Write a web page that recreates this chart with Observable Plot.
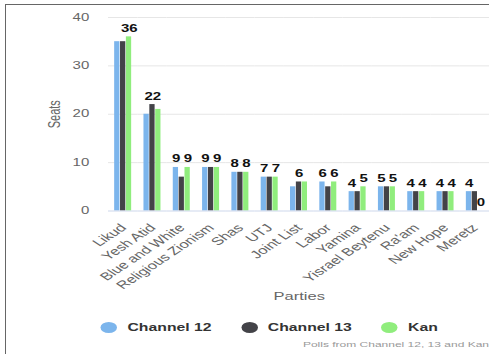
<!DOCTYPE html>
<html><head><meta charset="utf-8">
<script src="https://cdn.jsdelivr.net/npm/d3@7"></script>
<script src="https://cdn.jsdelivr.net/npm/@observablehq/plot@0.6"></script>
<style>
html,body{margin:0;padding:0;background:#fff;overflow:hidden;width:489px;height:354px}
#frame{position:absolute;left:5px;top:4px;right:0;bottom:0;border-top:1.5px solid #666;border-left:1.5px solid #666;pointer-events:none}
#stage{position:absolute;left:0;top:0;width:327px;height:354px;transform:scaleX(1.5);transform-origin:0 0;font-family:"Liberation Sans",Arial,sans-serif}
#legend{position:absolute;top:320px;left:67px;display:flex;gap:19.5px;font-size:10.5px;font-weight:bold;color:#333;line-height:14px}
.item{display:flex;align-items:center;gap:7px}
.dot{width:11px;height:11px;border-radius:50%}
#caption{position:absolute;right:1px;top:340px;font-size:8px;color:#999;white-space:nowrap}
</style></head>
<body>
<div id="stage"></div>
<div id="frame"></div>
<script>
const parties = ["Likud","Yesh Atid","Blue and White","Religious Zionism","Shas","UTJ","Joint List","Labor","Yamina","Yisrael Beytenu","Ra'am","New Hope","Meretz"];
const seriesNames = ["Channel 12","Channel 13","Kan"];
const channel12 = [35,20,9,9,8,7,5,6,4,5,4,4,4];
const channel13 = [35,22,7,9,8,7,6,5,4,5,4,4,4];
const kan = [36,21,9,9,8,7,6,6,5,5,4,4,0];
const colors = ["#7cb5ec","#434348","#90ed7d"];
const yTicks = [0,10,20,30,40];
// which series carry a visible value label, per party
const labelled = [["Kan"],["Channel 13"],["Channel 12","Kan"],["Channel 12","Kan"],["Channel 12","Kan"],["Channel 12","Kan"],["Channel 13"],["Channel 12","Kan"],["Channel 12","Kan"],["Channel 12","Kan"],["Channel 12","Kan"],["Channel 12","Kan"],["Channel 12","Kan"]];
const caption = "Polls from Channel 12, 13 and Kan";

const seriesValues = [channel12, channel13, kan];
const rows = parties.flatMap((p, i) => seriesNames.map((s, j) => ({party: p, series: s, value: seriesValues[j][i]})));
const labelRows = rows.filter(r => labelled[parties.indexOf(r.party)].includes(r.series));

const chart = Plot.plot({
  width: 327,
  height: 310,
  marginTop: 17,
  marginBottom: 99.5,
  marginLeft: 72,
  marginRight: 1,
  style: {fontFamily: '"Liberation Sans", Arial, sans-serif', background: "transparent", overflow: "visible"},
  fx: {domain: parties, padding: 0, round: false},
  x: {domain: seriesNames, axis: null, paddingInner: 0.1, paddingOuter: 1.05, round: false},
  y: {domain: [0, 40]},
  color: {domain: seriesNames, range: colors},
  marks: [
    Plot.ruleY(yTicks.slice(1), {stroke: "#e6e6e6", strokeOpacity: 1}),
    Plot.barY(rows, {fx: "party", x: "series", y: "value", fill: "series"}),
    Plot.ruleY([0], {stroke: "#ccd6eb", strokeOpacity: 1}),
    Plot.text(labelRows, {fx: "party", x: "series", y: "value", text: d => String(d.value), dy: -5, lineAnchor: "bottom", fontWeight: "bold", fontSize: 10, fill: "#111"}),
    Plot.axisY({ticks: yTicks, tickSize: 0, tickPadding: 13, fontSize: 10, color: "#666", label: null}),
    Plot.axisY({ticks: [], tickSize: 0, fontSize: 11, color: "#666", label: "Seats", labelAnchor: "center", labelOffset: 40, labelArrow: "none"}),
    Plot.axisFx({anchor: "bottom", tickRotate: -45, tickSize: 0, tickPadding: 15, fontSize: 11, color: "#666", label: null}),
    Plot.axisFx({anchor: "bottom", ticks: [], tickSize: 0, fontSize: 11, color: "#666", label: "Parties", labelAnchor: "center", labelOffset: 89, labelArrow: "none"})
  ]
});
const stage = document.getElementById("stage");
stage.appendChild(chart);
chart.style.position = "absolute";
chart.style.left = "0";
chart.style.top = "0";

const legend = document.createElement("div");
legend.id = "legend";
seriesNames.forEach((s, j) => {
  const item = document.createElement("div");
  item.className = "item";
  const dot = document.createElement("span");
  dot.className = "dot";
  dot.style.background = colors[j];
  const t = document.createElement("span");
  t.textContent = s;
  item.appendChild(dot); item.appendChild(t);
  legend.appendChild(item);
});
stage.appendChild(legend);
const cap = document.createElement("div");
cap.id = "caption";
cap.textContent = caption;
stage.appendChild(cap);
</script>
</body></html>
